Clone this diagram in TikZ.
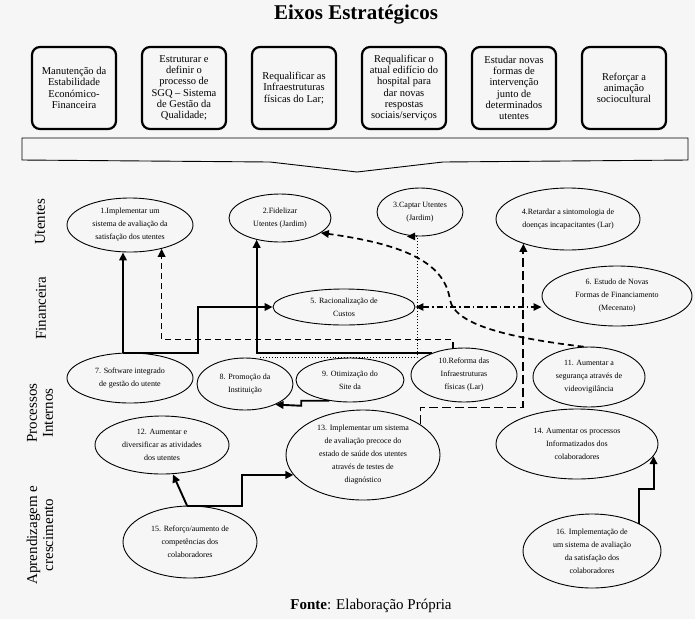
\documentclass[tikz,border=0pt]{standalone}
\usepackage{fontspec}
\setmainfont{Liberation Serif}
\usetikzlibrary{shapes.geometric,arrows.meta}
\definecolor{fundo}{RGB}{246,246,246}
\tikzset{
  eixo/.style={draw, line width=2.2pt, rounded corners=8pt, minimum width=84pt,
    minimum height=82pt, inner sep=0pt, align=center,
    font=\fontsize{10.5}{11.3}\selectfont},
  obj/.style={draw, ellipse, line width=0.9pt, inner sep=0pt, align=center,
    font=\fontsize{8}{13}\selectfont},
  persp/.style={rotate=90, align=center, font=\fontsize{15}{16}\selectfont},
  seta/.style={line width=1.9pt, -{Triangle[length=8pt,width=7.5pt]}},
  traco/.style={seta, line width=1.7pt, dash pattern=on 6pt off 4pt},
  tracolongo/.style={seta, line width=1.7pt, dash pattern=on 9pt off 4pt},
  ponto/.style={line width=0.9pt, dotted, -{Triangle[length=8pt,width=7.5pt]}},
  tracoponto/.style={line width=1.2pt, dash pattern=on 6pt off 3pt on 1.5pt off 3pt,
    {Triangle[length=8pt,width=7.5pt]}-{Triangle[length=8pt,width=7.5pt]}}
}
\begin{document}
\begin{tikzpicture}[x=1pt,y=-1pt]
  \fill[fundo] (0,0) rectangle (695,619);
  \useasboundingbox (0,0) rectangle (695,619);

  % ---------- Title ----------
  \node[font=\fontsize{21}{24}\selectfont\bfseries] (titulo) at (356,15) {Eixos Estratégicos};

  % ---------- Strategic axes ----------
  \node[eixo] (eixo1) at (74,88) {Manutenção da\\Estabilidade\\Económico-\\Financeira};
  \node[eixo] (eixo2) at (184,88) {Estruturar e\\definir o\\processo de\\SGQ – Sistema\\de Gestão da\\Qualidade;};
  \node[eixo] (eixo3) at (294,88) {Requalificar as\\Infraestruturas\\físicas do Lar;};
  \node[eixo] (eixo4) at (404,88) {Requalificar o\\atual edifício do\\hospital para\\dar novas\\respostas\\sociais/serviços};
  \node[eixo] (eixo5) at (514,88) {Estudar novas\\formas de\\intervenção\\junto de\\determinados\\utentes};
  \node[eixo] (eixo6) at (624,88) {Reforçar a\\animação\\sociocultural};
  % banner pointing down
  \draw[line width=0.9pt] (22,138) -- (688,138) -- (688,160) -- (443,162) -- (357,172)
    -- (270,162) -- (22,160) -- cycle;

  % ---------- Perspectives ----------
  \node[persp] (utentes) at (40,222) {Utentes};
  \node[persp] (financeira) at (41,308) {Financeira};
  \node[persp] (processos) at (40,413) {Processos\\Internos};
  \node[persp] (aprendizagem) at (40,535) {Aprendizagem e\\crescimento};

  % ---------- Objectives ----------
  \node[obj, minimum width=126pt, minimum height=54pt] (e1) at (130,225) {1.Implementar um\\sistema de avaliação da\\satisfação dos utentes};
  \node[obj, minimum width=102pt, minimum height=48pt] (e2) at (280,218) {2.Fidelizar\\Utentes (Jardim)};
  \node[obj, minimum width=86pt, minimum height=48pt] (e3) at (420,212) {3.Captar Utentes\\(Jardim)};
  \node[obj, minimum width=144pt, minimum height=62pt] (e4) at (568,219) {4.Retardar a sintomologia de\\doenças incapacitantes (Lar)};
  \node[obj, minimum width=142pt, minimum height=36pt] (e5) at (344,307) {5. Racionalização de\\Custos};
  \node[obj, minimum width=150pt, minimum height=60pt] (e6) at (617,296) {6. Estudo de Novas\\Formas de Financiamento\\(Mecenato)};
  \node[obj, minimum width=126pt, minimum height=50pt] (e7) at (130,378) {7. Software integrado\\de gestão do utente};
  \node[obj, minimum width=96pt, minimum height=52pt] (e8) at (245,384) {8. Promoção da\\Instituição};
  \node[obj, minimum width=108pt, minimum height=44pt] (e9) at (350,380) {9. Otimização do\\Site da};
  \node[obj, minimum width=106pt, minimum height=54pt] (e10) at (464,375) {10.Reforma das\\Infraestruturas\\físicas (Lar)};
  \node[obj, minimum width=112pt, minimum height=60pt] (e11) at (589,377) {11. Aumentar a\\segurança através de\\videovigilância};
  \node[obj, minimum width=134pt, minimum height=58pt] (e12) at (162,445) {12. Aumentar e\\diversificar as atividades\\dos utentes};
  \node[obj, minimum width=154pt, minimum height=90pt] (e13) at (363,455) {13. Implementar um sistema\\de avaliação precoce do\\estado de saúde dos utentes\\através de testes de\\diagnóstico};
  \node[obj, minimum width=162pt, minimum height=70pt] (e14) at (577,444) {14. Aumentar os processos\\Informatizados dos\\colaboradores};
  \node[obj, minimum width=134pt, minimum height=72pt] (e15) at (190,542) {15. Reforço/aumento de\\competências dos\\colaboradores};
  \node[obj, minimum width=138pt, minimum height=74pt] (e16) at (592,551) {16. Implementação de\\um sistema de avaliação\\da satisfação dos\\colaboradores};

  % ---------- Connectors ----------
  \draw[seta] ([xshift=-7pt]e7.north) -- ([xshift=-7pt]e1.south);
  \draw[seta] ([xshift=-7pt]e7.north) -- ++(75,0) |- (e5.west);
  \draw[seta] (e10.145) -| (e2.223);
  \draw[ponto] ([xshift=15pt]e8.north) -| ([xshift=-3pt]e3.south) -- ++(-10,0);
  \draw[seta] (e9.225) -- ++(-28,0) -- ++(0,5) -- (e8.326);
  \draw[traco] (e11.100) .. controls (510,338) and (455,325) .. (450,300)
    .. controls (445,265) and (410,245) .. (e2.340);
  \draw[traco] ([xshift=-11pt]e10.north) -- ++(0,-8) -| (e1.323);
  \draw[tracolongo] (e13.28) -- ++(0,-17) -| (e4.209);
  \draw[tracoponto] (e5.east) -- (e5.east -| e6.west);
  \draw[seta] ([xshift=-3pt]e15.north) -- ([xshift=11pt]e12.south);
  \draw[seta] ([xshift=-3pt]e15.north) -- ++(55,0) |- (e13.196);
  \draw[seta] (e16.30) -- ++(0,-35) -| (e14.351);

  % ---------- Source ----------
  \node[font=\fontsize{15}{18}\selectfont] (fonte) at (371,606) {\textbf{Fonte}: Elaboração Própria};
\end{tikzpicture}
\end{document}
